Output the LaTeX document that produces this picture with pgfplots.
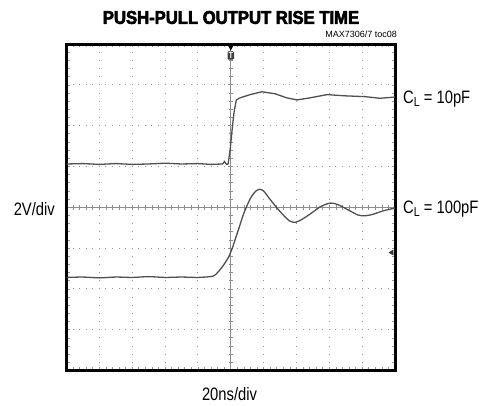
\documentclass[border=0pt]{standalone}
\usepackage{pgfplots}
\pgfplotsset{compat=1.18}
\usepackage{fontspec}
\setmainfont{Liberation Sans}
\newfontfamily\condfont[FakeStretch=0.82]{Liberation Sans}
\newfontfamily\titlefont[FakeStretch=0.9,FakeBold=3]{Liberation Sans Bold}

\definecolor{trace}{RGB}{80,80,80}
\definecolor{gridgray}{RGB}{150,150,150}
\definecolor{crossgray}{RGB}{140,140,140}

\pgfplotsset{scopebox/.style={
  scale only axis, width=328.5pt, height=326.5pt,
  xmin=-5, xmax=5, ymin=-4, ymax=4,
  xtick={-5,...,5}, ytick={-4,...,4},
  minor x tick num=4, minor y tick num=4,
  xticklabels={}, yticklabels={}}}

\begin{document}
\begin{tikzpicture}
\useasboundingbox (-66.5pt,-35.5pt) rectangle (412.5pt,370.5pt);

% centre crosshair with its fine ticks
\begin{axis}[scopebox,
  axis lines=center, axis line style={-, crossgray, line width=1pt},
  tick align=center, major tick length=5pt, minor tick length=4.5pt,
  tick style={crossgray, line width=0.7pt}]
\end{axis}

% screen: frame, dotted graticule, traces
\begin{axis}[scopebox, clip=false,
  axis line style={line width=3pt, black},
  tick align=inside, major tick length=3pt, minor tick length=3pt,
  tick style={gridgray, line width=0.6pt},
  grid=major,
  x grid style={gridgray, line width=0.9pt, dash pattern=on 1pt off 7.16pt, dash phase=0.5pt},
  y grid style={gridgray, line width=0.9pt, dash pattern=on 1pt off 5.57pt, dash phase=0.5pt}]

% C_L = 10pF
\addplot[trace, line width=1.3pt] coordinates {
(-5,1.06) (-4.5,1.07) (-4,1.05) (-3.5,1.07) (-3,1.05) (-2.5,1.06)
(-2,1.08) (-1.5,1.06) (-1,1.07) (-0.6,1.05) (-0.25,1.06)
(-0.19,1.12) (-0.13,1.05) (-0.08,1.06) (-0.02,1.40) (0.04,1.89)
(0.10,2.33) (0.17,2.63) (0.28,2.68) (0.59,2.76) (0.95,2.83)
(1.35,2.78) (1.71,2.68) (2.02,2.63) (2.41,2.68) (2.93,2.76)
(3.48,2.73) (4.09,2.71) (4.54,2.67) (5,2.70)
};

% C_L = 100pF
\addplot[trace, line width=1.3pt, smooth, tension=0.4] coordinates {
(-5,-1.72) (-4.5,-1.71) (-4,-1.73) (-3.5,-1.71) (-3,-1.72) (-2.5,-1.70)
(-2,-1.72) (-1.5,-1.71) (-1,-1.72) (-0.54,-1.69) (-0.39,-1.59)
(-0.24,-1.44) (-0.08,-1.24) (0.04,-1.02) (0.13,-0.80) (0.25,-0.51)
(0.37,-0.21) (0.49,0.03) (0.62,0.25) (0.77,0.40) (0.89,0.44)
(1.01,0.39) (1.19,0.20) (1.41,-0.02) (1.62,-0.21) (1.80,-0.34)
(1.96,-0.37) (2.14,-0.31) (2.41,-0.17) (2.72,0.01) (2.96,0.09)
(3.11,0.10) (3.33,0.04) (3.63,-0.09) (3.87,-0.19) (4.06,-0.21)
(4.30,-0.18) (4.63,-0.09) (5,-0.02)
};

% trigger and ground markers
\addplot[only marks, mark=triangle*, mark size=2.6pt,
  mark options={rotate=180, fill=black, draw=black}] coordinates {(0,3.92)};
\addplot[only marks, mark=triangle*, mark size=2.8pt,
  mark options={rotate=90, fill=black!80, draw=black!80}] coordinates {(4.90,-1.11)};
\node[fill=black!75, text=white, rounded corners=1.2pt, inner xsep=1pt, inner ysep=1.2pt,
  font=\condfont\bfseries\fontsize{9}{9}\selectfont] at (axis cs:0,3.72) {T};
\end{axis}

\node[font=\titlefont\fontsize{18.5}{20}\selectfont] at (164.5pt,353pt) {PUSH-PULL OUTPUT RISE TIME};
\node[anchor=east, inner sep=0pt, font=\fontsize{9}{10}\selectfont] at (330.5pt,336pt) {MAX7306/7 toc08};
\node[anchor=east, inner sep=0pt, font=\condfont\fontsize{18}{20}\selectfont] at (-11.5pt,161pt) {2V/div};
\node[font=\condfont\fontsize{18}{20}\selectfont] at (163pt,-24pt) {20ns/div};
\node[anchor=west, inner sep=0pt, font=\condfont\fontsize{18}{20}\selectfont] at (336.5pt,271.5pt)
  {C\raisebox{-0.3ex}{\fontsize{13}{13}\selectfont L} = 10pF};
\node[anchor=west, inner sep=0pt, font=\condfont\fontsize{18}{20}\selectfont] at (336.5pt,161.5pt)
  {C\raisebox{-0.3ex}{\fontsize{13}{13}\selectfont L} = 100pF};
\end{tikzpicture}
\end{document}
